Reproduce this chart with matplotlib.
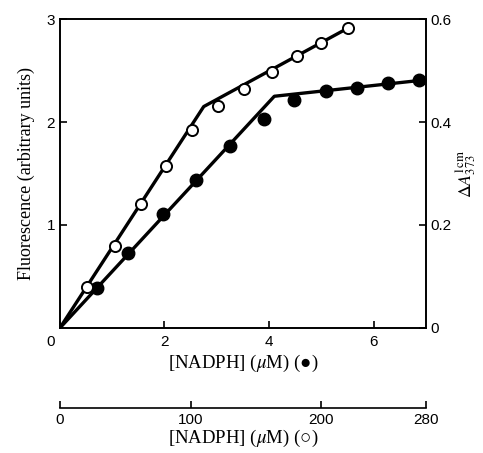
import matplotlib
matplotlib.use("Agg")
import matplotlib.pyplot as plt
from matplotlib.transforms import ScaledTranslation

# Filled circles: NADPH (uM, top scale) vs fluorescence
filled_x = [0.71, 1.30, 1.97, 2.60, 3.25, 3.90, 4.48, 5.09, 5.68, 6.27, 6.86]
filled_y = [0.39, 0.725, 1.11, 1.44, 1.77, 2.03, 2.21, 2.30, 2.33, 2.38, 2.41]
# Open circles: NADPH (uM, bottom scale 0-280) vs fluorescence
open_x_uM = [21, 42, 62, 81, 101, 121, 141, 162, 181, 200, 220]
open_y = [0.40, 0.80, 1.20, 1.57, 1.92, 2.16, 2.32, 2.49, 2.64, 2.77, 2.91]
# Fitted broken lines
filled_fit_x = [0, 4.10, 7.0]
filled_fit_y = [0, 2.25, 2.41]
open_fit_x_uM = [0, 110, 220]
open_fit_y = [0, 2.15, 2.91]

scale = 40.0  # 280 uM on bottom scale == 7 on top scale

serif = ['Liberation Serif', 'DejaVu Serif']
plt.rcParams['mathtext.fontset'] = 'stix'
plt.rcParams['font.family'] = ['Liberation Sans', 'DejaVu Sans']

fig = plt.figure(figsize=(4.83, 4.53), dpi=100)
ax = fig.add_axes([0.124, 0.276, 0.758, 0.682])

ax.plot(filled_fit_x, filled_fit_y, color='black', lw=2.4, zorder=2)
ax.plot([v / scale for v in open_fit_x_uM], open_fit_y, color='black', lw=2.4, zorder=2)
ax.plot(filled_x, filled_y, 'o', ms=9, color='black', zorder=3)
ax.plot([v / scale for v in open_x_uM], open_y, 'o', ms=8, mfc='white', mec='black', mew=1.4, zorder=3)

ax.set_xlim(0, 7)
ax.set_ylim(0, 3)
ax.set_xticks([0, 2, 4, 6])
ax.set_yticks([1, 2, 3])
for s in ax.spines.values():
    s.set_linewidth(1.2)
ax.tick_params(direction='in', length=5, width=1.2, labelsize=11)
ax.tick_params(axis='x', pad=5)
xl = ax.get_xticklabels()
xl[0].set_transform(xl[0].get_transform() + ScaledTranslation(-0.09, 0, fig.dpi_scale_trans))
ax.set_ylabel('Fluorescence (arbitrary units)', fontsize=13, family=serif, labelpad=8)
ax.set_xlabel(r'[NADPH] ($\mu$M) (●)', fontsize=13.5, family=serif + ['DejaVu Sans'], labelpad=3)

axr = ax.twinx()
axr.set_ylim(0, 0.6)
axr.set_yticks([0, 0.2, 0.4, 0.6])
axr.set_yticklabels(['0', '0.2', '0.4', '0.6'])
axr.tick_params(direction='in', length=5, width=1.2, labelsize=11)
axr.set_ylabel(r'$\Delta A^{\mathrm{l\,cm}}_{373}$', fontsize=13, labelpad=2)
for s in axr.spines.values():
    s.set_linewidth(1.2)

sec = ax.secondary_xaxis(-0.259, functions=(lambda x: x * scale, lambda x: x / scale))
sec.set_xticks([0, 100, 200, 280])
sec.tick_params(direction='in', length=5, width=1.2, labelsize=11)
sec.spines['bottom'].set_linewidth(1.2)
sec.set_xlabel(r'[NADPH] ($\mu$M) (○)', fontsize=13.5, family=serif + ['DejaVu Sans'], labelpad=1)

fig.savefig('out.png', dpi=100)
